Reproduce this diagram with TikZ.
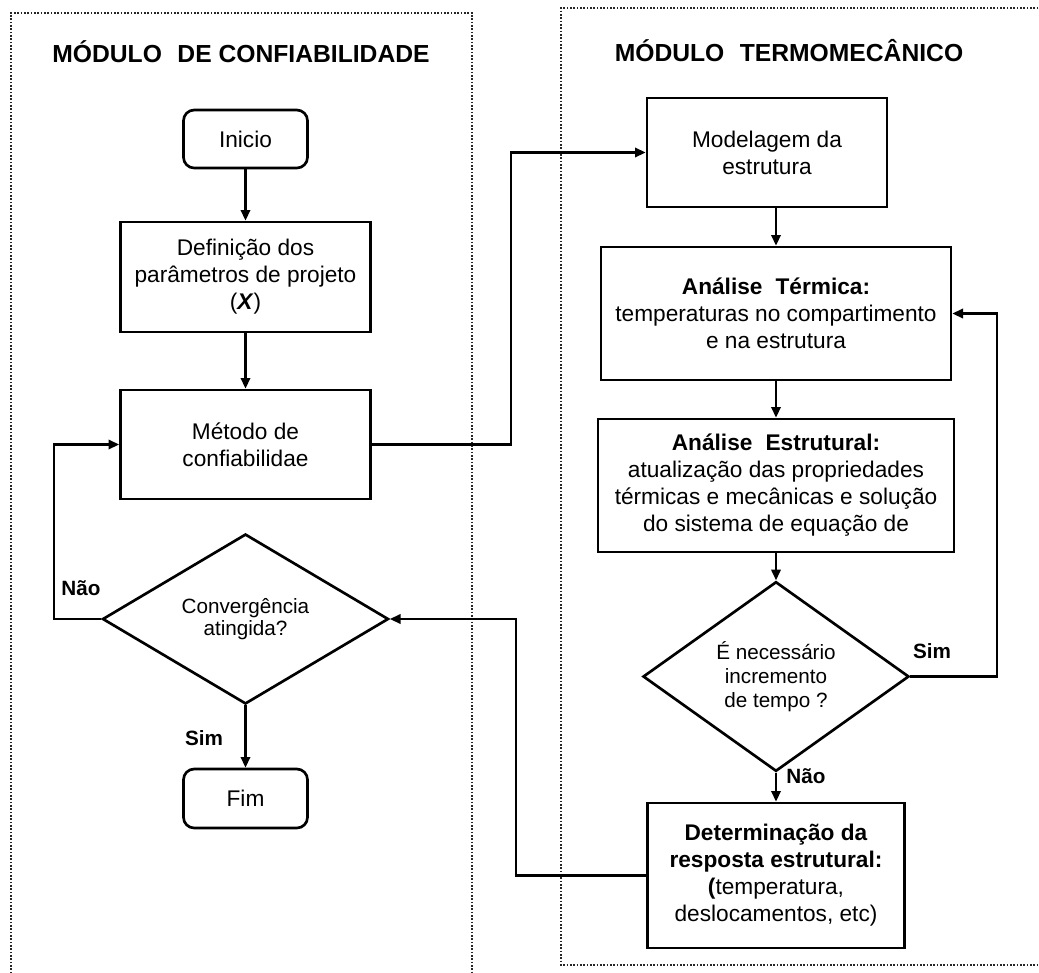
\documentclass[tikz,border=0pt]{standalone}
\usepackage{fontspec}
\setmainfont{Liberation Sans}
\usetikzlibrary{shapes.geometric,arrows.meta}

\begin{document}
\begin{tikzpicture}[x=0.75pt,y=-0.75pt,
  every node/.style={inner sep=0pt, align=center},
  txt/.style={font=\fontsize{17}{20.25}\selectfont},
  small/.style={font=\fontsize{15.5}{16.5}\selectfont},
  sz/.style args={#1 by #2}{minimum width=#1*0.75pt, minimum height=#2*0.75pt},
  stepbox/.style={draw, line width=2pt, txt},
  termbox/.style={draw, line width=2pt, rounded corners=8pt, txt},
  decision/.style={draw, diamond, line width=2pt, small},
  frame/.style={line width=1.3pt, black!85, dash pattern=on 1.2pt off 1.3pt},
  title/.style={font=\fontsize{18.5}{22}\selectfont\bfseries},
  lbl/.style={font=\fontsize{15.5}{18}\selectfont\bfseries},
  link/.style={line width=1.7pt, -{Triangle[length=8pt,width=7pt]}}
]
\useasboundingbox (0,0) rectangle (1039,972);

% module frames (dotted)
\draw[frame] (11,980) -- (11,13) -- (472,13) -- (472,980);
\draw[frame] (1045,8) -- (561,8) -- (561,965) -- (1045,965);

% module titles
\node[title] (t1) at (241,52) {MÓDULO\hspace{0.35em} DE CONFIABILIDADE};
\node[title] (t2) at (789,51) {MÓDULO\hspace{0.35em} TERMOMECÂNICO};

% reliability module
\node[termbox, sz=124 by 58] (ini) at (245.5,139) {Inicio};
\node[stepbox, sz=250 by 110] (def) at (245.5,277)
  {Definição dos\\parâmetros de projeto\\(\textbf{\textit{X}})};
\node[stepbox, sz=250 by 109] (met) at (245.5,444.5)
  {Método de\\confiabilidae};
\node[decision, sz=286 by 170] (conv) at (245.5,619)
  {Convergência\\atingida?};
\node[termbox, sz=124 by 59] (fim) at (245.5,798.5) {Fim};

% thermomechanical module
\node[stepbox, sz=240 by 109] (mod) at (767,152.5) {Modelagem da\\estrutura};
\node[stepbox, sz=350 by 133] (term) at (776,313.5)
  {\textbf{Análise\hspace{0.3em} Térmica:}\\temperaturas no compartimento\\e na estrutura};
\node[stepbox, sz=356 by 133] (estr) at (776,485.5)
  {\textbf{Análise\hspace{0.3em} Estrutural:}\\atualização das propriedades\\térmicas e mecânicas e solução\\do sistema de equação de};
\node[decision, sz=266 by 171, font=\fontsize{15.5}{18}\selectfont] (inc) at (776,676.5)
  {É necessário\\incremento\\de tempo ?};
\node[stepbox, sz=257 by 145] (det) at (776,875.5)
  {\textbf{Determinação da}\\\textbf{resposta estrutural:}\\\textbf{(}temperatura,\\deslocamentos, etc)};

% connectors
\draw[link] (ini.south) -- (def.north);
\draw[link] (def.south) -- (met.north);
\draw[link] (met.east) -- ++(139,0) |- (mod.west);
\draw[link] (term.north |- mod.south) -- (term.north);
\draw[link] (term.south) -- (estr.north);
\draw[link] (estr.south) -- (inc.north);
\draw[link] (inc.east) -- ++(87,0) |- (term.east);
\draw[link] (inc.south) -- (det.north);
\draw[link] (det.west) -- ++(-130,0) |- (conv.east);
\draw[link] (conv.west) -- ++(-47,0) |- (met.west);
\draw[link] (conv.south) -- (fim.north);

% branch labels
\node[lbl] (nao1) at (81,588) {Não};
\node[lbl] (sim1) at (204,738) {Sim};
\node[lbl] (sim2) at (932,651) {Sim};
\node[lbl] (nao2) at (806,776) {Não};
\end{tikzpicture}
\end{document}
